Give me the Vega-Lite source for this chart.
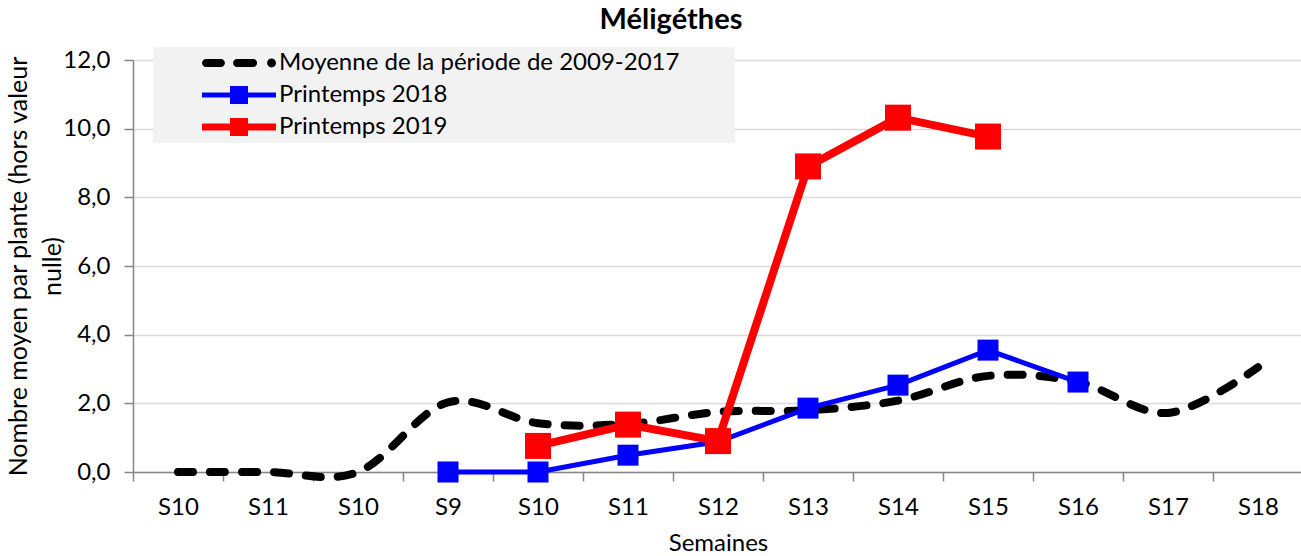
{
  "$schema": "https://vega.github.io/schema/vega-lite/v6.json",
  "autosize": {"type": "none"},
  "padding": {"left": 133, "top": 60, "right": 0, "bottom": 84},
  "width": 1170,
  "height": 412,
  "background": "white",
  "config": {"font": "Lato", "view": {"stroke": null}},
  "title": {"text": "Méligéthes", "font": "Lato", "fontSize": 29, "fontWeight": "bold", "color": "black", "anchor": "middle", "dx": -47, "baseline": "alphabetic", "offset": -11},
  "data": {"values": [
    {"i": 1, "serie": "Moyenne de la période de 2009-2017", "v": 0},
    {"i": 2, "serie": "Moyenne de la période de 2009-2017", "v": 0},
    {"i": 3, "serie": "Moyenne de la période de 2009-2017", "v": 0},
    {"i": 4, "serie": "Moyenne de la période de 2009-2017", "v": 2.03},
    {"i": 5, "serie": "Moyenne de la période de 2009-2017", "v": 1.42},
    {"i": 6, "serie": "Moyenne de la période de 2009-2017", "v": 1.4},
    {"i": 7, "serie": "Moyenne de la période de 2009-2017", "v": 1.75},
    {"i": 8, "serie": "Moyenne de la période de 2009-2017", "v": 1.8},
    {"i": 9, "serie": "Moyenne de la période de 2009-2017", "v": 2.08},
    {"i": 10, "serie": "Moyenne de la période de 2009-2017", "v": 2.8},
    {"i": 11, "serie": "Moyenne de la période de 2009-2017", "v": 2.62},
    {"i": 12, "serie": "Moyenne de la période de 2009-2017", "v": 1.72},
    {"i": 13, "serie": "Moyenne de la période de 2009-2017", "v": 3.05},
    {"i": 4, "serie": "Printemps 2018", "v": 0},
    {"i": 5, "serie": "Printemps 2018", "v": 0},
    {"i": 6, "serie": "Printemps 2018", "v": 0.49},
    {"i": 7, "serie": "Printemps 2018", "v": 0.88},
    {"i": 8, "serie": "Printemps 2018", "v": 1.86},
    {"i": 9, "serie": "Printemps 2018", "v": 2.53},
    {"i": 10, "serie": "Printemps 2018", "v": 3.55},
    {"i": 11, "serie": "Printemps 2018", "v": 2.62},
    {"i": 5, "serie": "Printemps 2019", "v": 0.76},
    {"i": 6, "serie": "Printemps 2019", "v": 1.38},
    {"i": 7, "serie": "Printemps 2019", "v": 0.9},
    {"i": 8, "serie": "Printemps 2019", "v": 8.9},
    {"i": 9, "serie": "Printemps 2019", "v": 10.32},
    {"i": 10, "serie": "Printemps 2019", "v": 9.77}
  ]},
  "encoding": {
    "x": {
      "field": "i", "type": "ordinal",
      "scale": {"domain": [1,2,3,4,5,6,7,8,9,10,11,12,13], "paddingInner": 0, "paddingOuter": 0},
      "axis": {
        "title": "Semaines", "titleFont": "Lato", "titleFontSize": 24, "titleFontWeight": "normal", "titleColor": "black", "titlePadding": 12,
        "labelExpr": "['S10','S11','S10','S9','S10','S11','S12','S13','S14','S15','S16','S17','S18'][datum.value-1]",
        "labelAngle": 0, "labelFont": "Lato", "labelFontSize": 24, "labelColor": "black", "labelPadding": 14,
        "tickBand": "extent", "tickSize": 9, "tickColor": "#868686", "tickWidth": 1.5,
        "domainColor": "#868686", "domainWidth": 1.5, "grid": false
      }
    },
    "y": {
      "field": "v", "type": "quantitative",
      "scale": {"domain": [0, 12], "nice": false, "zero": false},
      "axis": {
        "values": [0,2,4,6,8,10,12],
        "title": ["Nombre moyen par plante (hors valeur", "nulle)"],
        "titleFont": "Lato", "titleFontSize": 25, "titleFontWeight": "normal", "titleColor": "black", "titleLineHeight": 34, "titlePadding": -3,
        "labelExpr": "replace(format(datum.value, '.1f'), '.', ',')",
        "labelFont": "Lato", "labelFontSize": 24, "labelColor": "black", "labelPadding": 14,
        "tickSize": 9, "tickColor": "#868686", "tickWidth": 1.5,
        "domainColor": "#868686", "domainWidth": 1.5,
        "grid": true, "gridColor": "#d9d9d9", "gridWidth": 1.5
      }
    },
    "color": {
      "field": "serie", "type": "nominal",
      "scale": {"domain": ["Moyenne de la période de 2009-2017", "Printemps 2018", "Printemps 2019"], "range": ["#000000", "#0000ff", "#ff0000"]},
      "legend": {
        "title": null, "orient": "none", "legendX": 20, "legendY": -13,
        "fillColor": "#f2f2f2", "padding": 4, "rowPadding": 8,
        "symbolSize": 484, "symbolOffset": 70, "labelOffset": 28,
        "labelFont": "Lato", "labelFontSize": 24, "labelColor": "black", "labelLimit": 800,
        "encode": {
          "symbols": {"update": {
            "shape": {"signal": "datum.value === 'Printemps 2018' ? 'M-3.364,-0.229H-0.818V-0.818H0.818V-0.229H3.364V0.229H0.818V0.818H-0.818V0.229H-3.364Z' : datum.value === 'Printemps 2019' ? 'M-3.364,-0.32H-0.818V-0.818H0.818V-0.32H3.364V0.32H0.818V0.818H-0.818V0.32H-3.364Z' : 'M-3,-0.363H-1.642A0.363,0.363 0 0 1 -1.642,0.363H-3A0.363,0.363 0 0 1 -3,-0.363ZM-0.175,-0.363H1.285A0.363,0.363 0 0 1 1.285,0.363H-0.175A0.363,0.363 0 0 1 -0.175,-0.363ZM2.556,0A0.404,0.404 0 1 0 3.364,0A0.404,0.404 0 1 0 2.556,0ZM44.7,0L44.7,0.01Z'"},
            "fill": {"scale": "color", "field": "value"},
            "stroke": {"value": "transparent"},
            "strokeWidth": {"value": 0},
            "opacity": {"value": 1}
          }}
        }
      }
    }
  },
  "layer": [
    {
      "transform": [{"filter": "datum.serie === 'Moyenne de la période de 2009-2017'"}],
      "mark": {"type": "line", "interpolate": "cardinal", "strokeWidth": 8, "strokeDash": [15, 17], "strokeCap": "round"}
    },
    {
      "transform": [{"filter": "datum.serie === 'Printemps 2018'"}],
      "mark": {"type": "line", "strokeWidth": 5}
    },
    {
      "transform": [{"filter": "datum.serie === 'Printemps 2018'"}],
      "mark": {"type": "point", "shape": "square", "filled": true, "size": 441, "opacity": 1}
    },
    {
      "transform": [{"filter": "datum.serie === 'Printemps 2019'"}],
      "mark": {"type": "line", "strokeWidth": 8}
    },
    {
      "transform": [{"filter": "datum.serie === 'Printemps 2019'"}],
      "mark": {"type": "point", "shape": "square", "filled": true, "size": 676, "opacity": 1}
    }
  ]
}
